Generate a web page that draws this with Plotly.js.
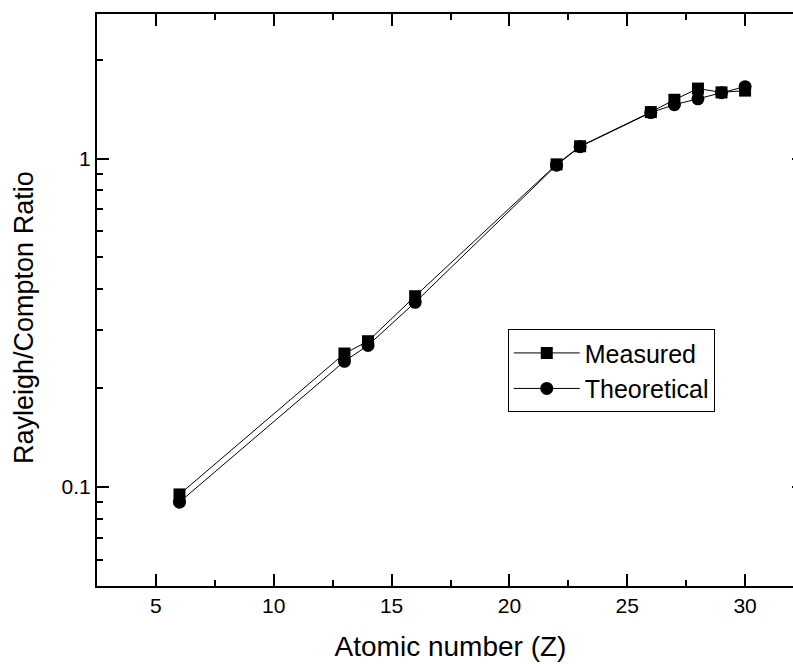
<!DOCTYPE html>
<html>
<head>
<meta charset="utf-8">
<script src="https://cdn.plot.ly/plotly-3.0.1.min.js"></script>
<style>
html,body{margin:0;padding:0;overflow:hidden;background:#fff;}
#chart{width:806px;height:664px;}
</style>
</head>
<body>
<div id="chart"></div>
<script>
var atomicNumber = [6, 13, 14, 16, 22, 23, 26, 27, 28, 29, 30];
var measured    = [0.095, 0.255, 0.278, 0.381, 0.960, 1.090, 1.385, 1.510, 1.633, 1.590, 1.610];
var theoretical = [0.090, 0.2415, 0.270, 0.365, 0.955, 1.087, 1.380, 1.459, 1.520, 1.587, 1.655];
var xTickVals = [5, 10, 15, 20, 25, 30];
var xMinorVals = [2.5, 7.5, 12.5, 17.5, 22.5, 27.5, 32.5];
var yTickVals = [0.1, 1];
var yTickText = ['0.1', '1'];
var yMinorVals = [0.05, 0.06, 0.07, 0.08, 0.09, 0.2, 0.3, 0.4, 0.5, 0.6, 0.7, 0.8, 0.9, 2];
var xTitle = 'Atomic number (Z)';
var yTitle = 'Rayleigh/Compton Ratio';

var fontFam = '"Liberation Sans", Arial, sans-serif';

var traces = [
  {
    x: atomicNumber, y: measured, name: 'Measured', type: 'scatter', mode: 'lines+markers',
    line: {color: '#000', width: 1},
    marker: {symbol: 'square', size: 12, color: '#000'}
  },
  {
    x: atomicNumber, y: theoretical, name: 'Theoretical', type: 'scatter', mode: 'lines+markers',
    line: {color: '#000', width: 1},
    marker: {symbol: 'circle', size: 13, color: '#000'}
  }
];

var axisCommon = {
  showline: true, linecolor: '#000', linewidth: 2, mirror: 'ticks',
  showgrid: false, zeroline: false,
  ticks: 'inside', ticklen: 12, tickwidth: 2, tickcolor: '#000',
  tickfont: {family: fontFam, size: 21, color: '#000'}
};

var layout = {
  width: 806, height: 664,
  margin: {l: 97, r: 2, t: 14, b: 78},
  paper_bgcolor: '#fff', plot_bgcolor: '#fff',
  font: {family: fontFam, color: '#000'},
  showlegend: true,
  legend: {
    x: 0.581, y: 0.449, xanchor: 'left', yanchor: 'top',
    bordercolor: '#000', borderwidth: 1, bgcolor: '#fff',
    font: {family: fontFam, size: 25, color: '#000'},
    itemwidth: 66, tracegroupgap: 0
  },
  xaxis: Object.assign({}, axisCommon, {
    range: [2.5, 32.5], tickmode: 'array', tickvals: xTickVals,
    minor: {tickmode: 'array', tickvals: xMinorVals, ticks: 'inside', ticklen: 6, tickwidth: 2, tickcolor: '#000', showgrid: false},
    title: {text: xTitle, font: {family: fontFam, size: 28, color: '#000'}, standoff: 20}
  }),
  yaxis: Object.assign({}, axisCommon, {
    type: 'log', range: [Math.log10(0.05), 0.44],
    tickmode: 'array', tickvals: yTickVals, ticktext: yTickText,
    minor: {tickmode: 'array', tickvals: yMinorVals, ticks: 'inside', ticklen: 6, tickwidth: 2, tickcolor: '#000', showgrid: false}
  }),
  annotations: [{
    text: yTitle, textangle: -90, showarrow: false,
    xref: 'paper', yref: 'paper', x: -0.1035, y: 0.47,
    xanchor: 'center', yanchor: 'middle',
    font: {family: fontFam, size: 27, color: '#000'}
  }]
};

Plotly.newPlot('chart', traces, layout, {displayModeBar: false, staticPlot: true});
</script>
</body>
</html>
